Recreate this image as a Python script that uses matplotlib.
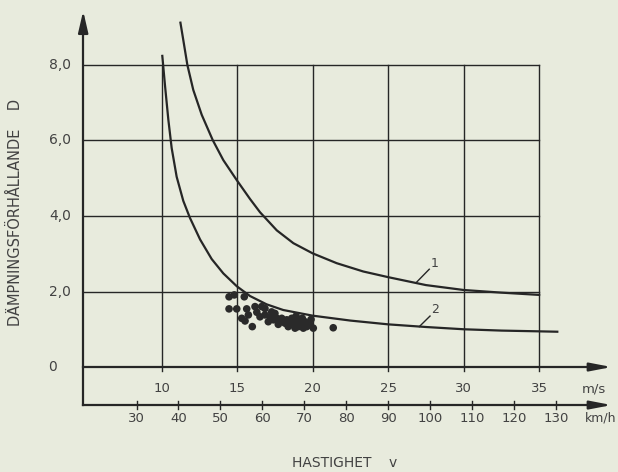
import matplotlib
matplotlib.use("Agg")
import matplotlib.pyplot as plt

# Curve 1 and curve 2: damping ratio D versus speed v (m/s)
curve1_v = [11.24, 11.43, 11.70, 12.09, 12.65, 13.38, 14.08, 14.97, 15.85, 16.51, 17.62,
            18.72, 20.0, 21.59, 23.35, 25.0, 27.5, 30.0, 32.5, 35.0]
curve1_d = [9.12, 8.66, 8.0, 7.34, 6.68, 6.01, 5.48, 4.95, 4.45, 4.1, 3.62,
            3.28, 3.01, 2.75, 2.53, 2.38, 2.17, 2.04, 1.97, 1.91]

curve2_v = [10.04, 10.22, 10.44, 10.66, 10.99, 11.43, 11.87, 12.54, 13.31, 14.08, 14.97,
            15.85, 16.95, 18.05, 20.0, 22.5, 25.0, 27.5, 30.0, 32.5, 35.0, 36.2]
curve2_d = [8.24, 7.45, 6.55, 5.8, 5.04, 4.4, 3.95, 3.38, 2.86, 2.48, 2.14,
            1.88, 1.66, 1.51, 1.36, 1.23, 1.13, 1.06, 1.0, 0.965, 0.945, 0.935]

# Measured points
meas_v = [14.46, 14.81, 15.47, 14.46, 14.97, 15.63, 16.18, 16.62, 16.84, 15.30, 15.74, 15.52,
          16.00, 16.51, 16.84, 17.17, 17.50, 17.62, 17.95, 18.28, 18.61, 18.83, 19.05, 19.31,
          19.49, 19.89, 18.38, 18.83, 19.38, 20.04, 21.36, 17.06, 17.72, 18.17, 19.05, 19.60,
          17.28, 17.40, 18.00, 18.50, 19.20, 19.80, 16.30, 18.90]
meas_d = [1.86, 1.91, 1.86, 1.54, 1.54, 1.54, 1.60, 1.60, 1.55, 1.29, 1.38, 1.22,
          1.07, 1.33, 1.38, 1.33, 1.42, 1.29, 1.29, 1.25, 1.29, 1.20, 1.25, 1.29,
          1.20, 1.26, 1.07, 1.03, 1.03, 1.03, 1.04, 1.20, 1.13, 1.16, 1.07, 1.07,
          1.46, 1.25, 1.20, 1.12, 1.15, 1.12, 1.45, 1.35]

# Axis ticks
ms_ticks = [10, 15, 20, 25, 30, 35]
ms_labels = ["10", "15", "20", "25", "30", "35"]
kmh_ticks = [30, 40, 50, 60, 70, 80, 90, 100, 110, 120, 130]
kmh_labels = ["30", "40", "50", "60", "70", "80", "90", "100", "110", "120", "130"]
d_ticks = [0, 2, 4, 6, 8]
d_labels = ["0", "2,0", "4,0", "6,0", "8,0"]

BG = "#e8ebdd"
INK = "#262626"
TXT = "#424242"
FONT = "DejaVu Sans"

fig = plt.figure(figsize=(6.18, 4.72), dpi=100, facecolor=BG)
ax = fig.add_axes([0, 0, 1, 1], facecolor=BG)
ax.set_xlim(-0.709, 40.22)
ax.set_ylim(-2.78, 9.72)
ax.axis("off")

x_axis_v = 4.8      # position of the vertical D axis
kmh_y = -1.007      # level of the km/h scale
x_end = 35

# grid
for d in d_ticks[1:]:
    ax.plot([x_axis_v, x_end], [d, d], color=INK, lw=1.0, zorder=1)
for v in ms_ticks:
    ax.plot([v, v], [-0.1, 8], color=INK, lw=1.0, zorder=1)

arrow = dict(arrowstyle="-|>,head_length=1.3,head_width=0.25",
             color=INK, lw=1.6, shrinkA=0, shrinkB=0)

# m/s axis with arrow
ax.plot([x_axis_v, 39.0], [0, 0], color=INK, lw=1.6, zorder=2)
ax.annotate("", xy=(39.8, 0), xytext=(38.3, 0), arrowprops=arrow)
# km/h axis with arrow
ax.plot([x_axis_v, 39.0], [kmh_y, kmh_y], color=INK, lw=1.6, zorder=2)
ax.annotate("", xy=(39.8, kmh_y), xytext=(38.3, kmh_y), arrowprops=arrow)
for k, lab in zip(kmh_ticks, kmh_labels):
    ax.plot([k / 3.6, k / 3.6], [kmh_y - 0.1, kmh_y + 0.12], color=INK, lw=1.0)
    ax.text(k / 3.6, -1.35, lab, ha="center", va="center",
            fontsize=9.5, color=TXT, family=FONT)

# D axis with arrow
ax.plot([x_axis_v, x_axis_v], [kmh_y, 9.0], color=INK, lw=1.6, zorder=2)
ax.annotate("", xy=(x_axis_v, 9.43), xytext=(x_axis_v, 8.8),
            arrowprops=dict(arrowstyle="-|>,head_length=1.3,head_width=0.3",
                            color=INK, lw=1.6, shrinkA=0, shrinkB=0))

for v, lab in zip(ms_ticks, ms_labels):
    ax.text(v, -0.58, lab, ha="center", va="center", fontsize=9.5, color=TXT, family=FONT)
for d, lab in zip(d_ticks, d_labels):
    xpos = 2.74 if d == 0 else 3.27
    ax.text(xpos, d, lab, ha="center", va="center", fontsize=10, color=TXT, family=FONT)

ax.text(38.6, -0.58, "m/s", ha="center", va="center", fontsize=9.5, color=TXT, family=FONT)
ax.text(38.05, -1.35, "km/h", ha="left", va="center", fontsize=9, color=TXT, family=FONT)
ax.text(22.1, -2.54, "HASTIGHET    v", ha="center", va="center", fontsize=10,
        color=TXT, family=FONT)
ax.text(0.3, 4.1, "DÄMPNINGSFÖRHÅLLANDE    D", ha="center", va="center", rotation=90,
        fontsize=10.5, color=TXT, family=FONT)

# curves
ax.plot(curve1_v, curve1_d, color=INK, lw=1.6, zorder=3, solid_joinstyle="round")
ax.plot(curve2_v, curve2_d, color=INK, lw=1.6, zorder=3, solid_joinstyle="round")

# curve labels with leaders
ax.plot([26.84, 27.72], [2.23, 2.59], color=INK, lw=1.0)
ax.text(27.8, 2.58, "1", ha="left", va="bottom", fontsize=9, color=TXT, family=FONT)
ax.plot([27.06, 27.77], [1.07, 1.35], color=INK, lw=1.0)
ax.text(27.85, 1.34, "2", ha="left", va="bottom", fontsize=9, color=TXT, family=FONT)

# measurements
ax.scatter(meas_v, meas_d, s=30, color="#2a2a2a", edgecolors="none", zorder=4)

fig.savefig("out.png", dpi=100, facecolor=BG)
